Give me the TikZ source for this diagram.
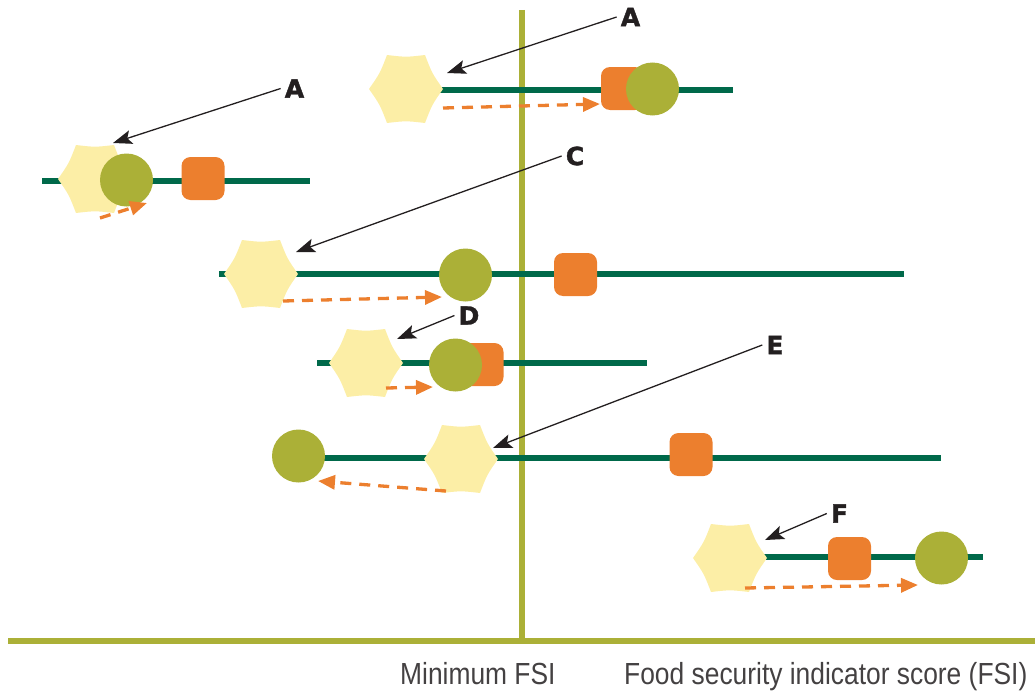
\documentclass[tikz,border=0pt]{standalone}
\usepackage{fontspec}
\setmainfont{Liberation Sans}
\newfontfamily\axisfont[FakeStretch=0.865]{Liberation Sans}
\newfontfamily\tagfont[FakeBold=1.6]{DejaVu Sans}
\usetikzlibrary{arrows.meta,calc}
\definecolor{hexyel}{HTML}{FCEEA6}
\definecolor{olivec}{HTML}{ABB037}
\definecolor{orangec}{HTML}{EC7F2E}
\definecolor{darkgreen}{HTML}{00694A}
\definecolor{inkc}{HTML}{231F20}
\newcommand\hexagonat[2]{%
  \node[hexanchor] (#1) at (#2) {};
  \fill[hexyel,shift={(#2)}] (-37,0) .. controls (-26,-15.8) .. (-19,-34)
    .. controls (0,-31.8) .. (19,-34) .. controls (26,-15.8) .. (37,0)
    .. controls (26,15.8) .. (19,34) .. controls (0,31.8) .. (-19,34)
    .. controls (-26,15.8) .. cycle;
}
\tikzset{
  hexanchor/.style={circle,minimum size=68pt,inner sep=0pt},
  disc/.style={circle,fill=olivec,minimum size=53pt,inner sep=0pt},
  squarebox/.style={rectangle,rounded corners=9pt,fill=orangec,minimum size=43pt,inner sep=0pt},
  rangeline/.style={draw=darkgreen,line width=5.5pt},
  axisline/.style={draw=olivec,line width=5.5pt},
  shiftarrow/.style={draw=orangec,line width=3.3pt,dash pattern=on 11pt off 8pt,
    -{Triangle[length=17pt,width=14pt]}},
  leader/.style={draw=inkc,line width=1.3pt,-{Stealth[length=19pt,width=14pt,inset=4pt]}},
  tag/.style={font=\tagfont\bfseries\fontsize{25}{25}\selectfont,text=inkc,inner xsep=4pt,inner ysep=0pt},
  axislabel/.style={font=\axisfont\fontsize{30.5}{32}\selectfont,text=inkc!85,inner sep=0pt,anchor=base west}
}
\begin{document}
\begin{tikzpicture}[x=1pt,y=-1pt]
\useasboundingbox (0,0) rectangle (1035,693);
% axes
\coordinate (vtop) at (522,10);
\coordinate (vbot) at (522,641);
\coordinate (bl) at (8,641);
\coordinate (br) at (1035,641);
\draw[axisline] (vtop) -- (vbot);
\draw[axisline] (bl) -- (br);
\node[axislabel] (tmin) at (400,684) {Minimum FSI};
\node[axislabel] (tfsi) at (624,684) {Food security indicator score (FSI)};
% range lines
\coordinate (l1a) at (406,90);  \coordinate (l1b) at (733,90);
\coordinate (l2a) at (42,181);  \coordinate (l2b) at (310,181);
\coordinate (l3a) at (219,274); \coordinate (l3b) at (904,274);
\coordinate (l4a) at (317,363); \coordinate (l4b) at (647,363);
\coordinate (l5a) at (298,458); \coordinate (l5b) at (941,458);
\coordinate (l6a) at (730,557); \coordinate (l6b) at (983,557);
\foreach \r in {1,...,6}{\draw[rangeline] (l\r a) -- (l\r b);}
% row 1
\hexagonat{h1}{406,89}
\node[squarebox] (s1) at (622.5,88.5) {};
\node[disc] (c1) at (652.5,89) {};
% row 2
\hexagonat{h2}{95,179}
\node[disc] (c2) at (126.5,180) {};
\node[squarebox] (s2) at (203,178.5) {};
% row 3
\hexagonat{h3}{261,274}
\node[disc] (c3) at (465.5,275) {};
\node[squarebox] (s3) at (575.5,274.5) {};
% row 4
\hexagonat{h4}{366,363}
\node[squarebox] (s4) at (482,364.5) {};
\node[disc] (c4) at (455.5,365) {};
% row 5
\node[disc] (c5) at (298.5,456) {};
\hexagonat{h5}{461,459}
\node[squarebox] (s5) at (691,454.5) {};
% row 6
\hexagonat{h6}{730,558}
\node[squarebox] (s6) at (849.5,558.5) {};
\node[disc] (c6) at (941.5,558) {};
% shift arrows
\coordinate (d1a) at (443,108); \coordinate (d1b) at (600,104);
\coordinate (d2a) at (100,218); \coordinate (d2b) at (147,203);
\coordinate (d3a) at (283,301); \coordinate (d3b) at (442,297);
\coordinate (d4a) at (386,388); \coordinate (d4b) at (433,387);
\coordinate (d5a) at (446,491); \coordinate (d5b) at (318,481);
\coordinate (d6a) at (745,588); \coordinate (d6b) at (918,585);
\foreach \r in {1,...,6}{\draw[shiftarrow] (d\r a) -- (d\r b);}
% tags and leaders
\node[tag] (ta1) at (630.5,17) {A};
\node[tag] (ta2) at (294.5,88.5) {A};
\node[tag] (tc) at (575,156) {C};
\node[tag] (td) at (469,315.5) {D};
\node[tag] (te) at (775,345) {E};
\node[tag] (tf) at (839.5,513.5) {F};
\coordinate (p1) at (447,73);
\coordinate (p2) at (113,143);
\coordinate (p3) at (296,252);
\coordinate (p4) at (397,339);
\coordinate (p5) at (493,448);
\coordinate (p6) at (765,540);
\draw[leader] (ta1.west) -- (p1);
\draw[leader] (ta2.west) -- (p2);
\draw[leader] (tc.west) -- (p3);
\draw[leader] (td.west) -- (p4);
\draw[leader] (te.west) -- (p5);
\draw[leader] (tf.west) -- (p6);
\end{tikzpicture}
\end{document}
